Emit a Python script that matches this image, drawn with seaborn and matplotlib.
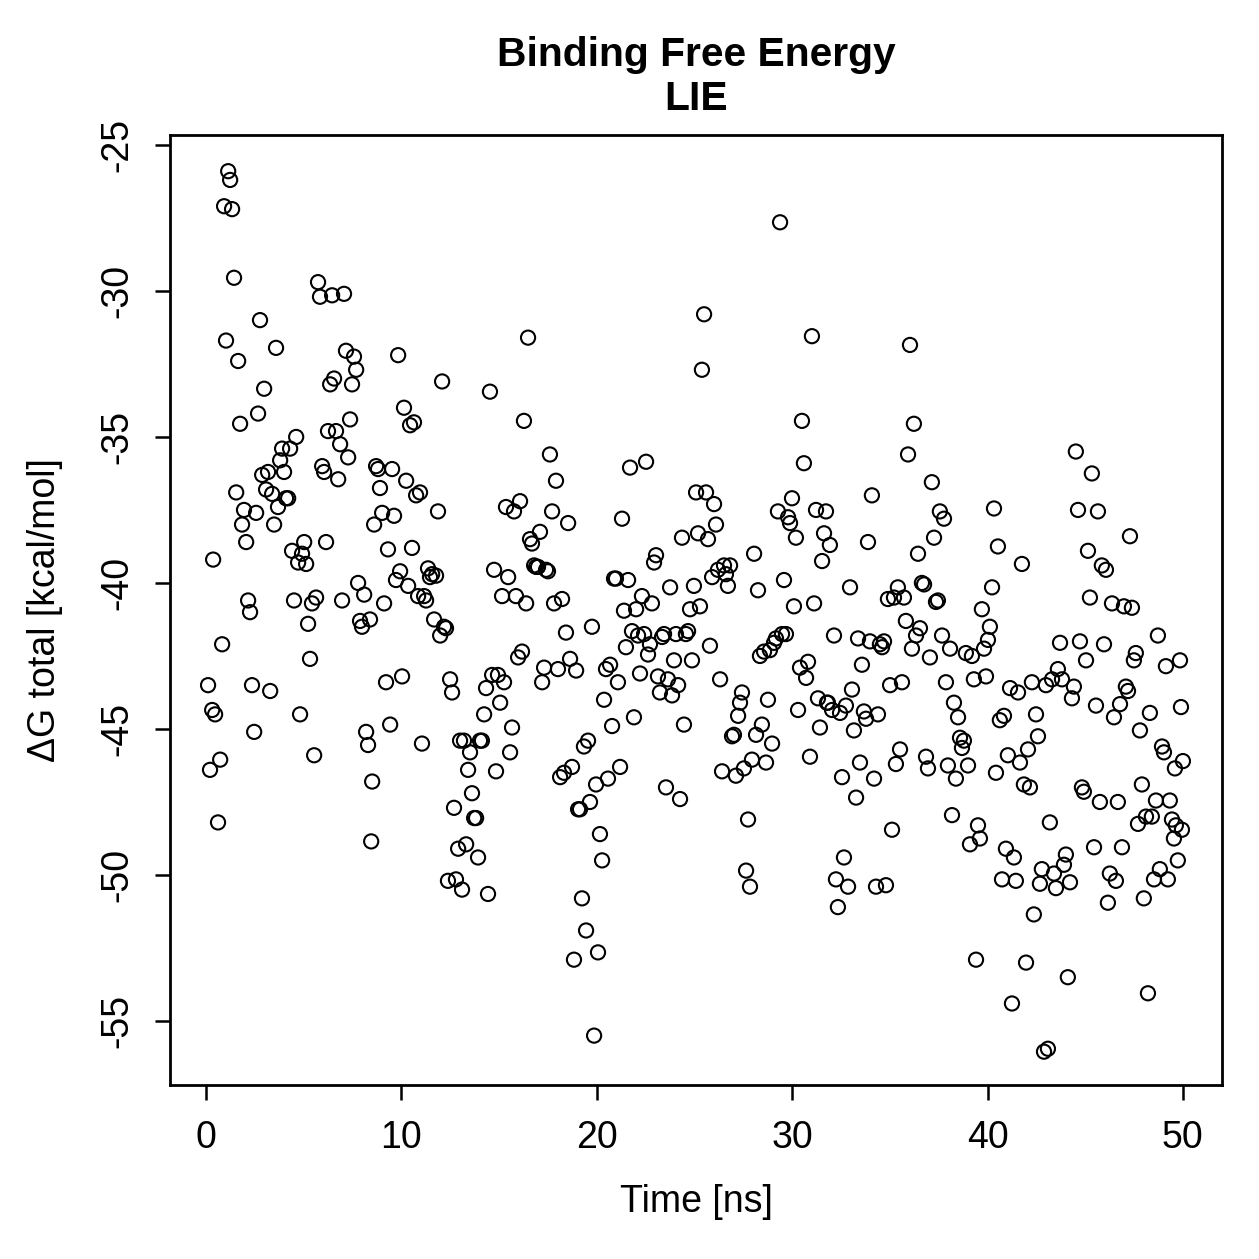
import matplotlib
matplotlib.use("Agg")
import matplotlib.pyplot as plt
import seaborn as sns
import pandas as pd

# Values (time in ns, dG in kcal/mol)
time_ns = [
    0.10, 0.20, 0.31, 0.46, 0.36, 0.61, 0.72, 0.82, 0.92, 1.02,
    1.13, 1.23, 1.33, 1.43, 1.54, 1.64, 1.74, 1.84, 1.94, 2.05,
    2.15, 2.25, 2.35, 2.46, 2.56, 2.66, 2.76, 2.87, 2.97, 3.07,
    3.17, 3.28, 3.38, 3.48, 3.58, 3.68, 3.79, 3.89, 3.99, 4.09,
    4.20, 4.30, 4.40, 4.50, 4.61, 4.71, 4.81, 4.91, 5.02, 5.12,
    5.22, 5.32, 5.42, 5.53, 5.63, 5.73, 5.83, 5.94, 6.04, 6.14,
    6.24, 6.35, 6.45, 6.55, 6.65, 6.76, 6.86, 6.96, 7.06, 7.16,
    7.27, 7.37, 7.47, 7.57, 7.68, 7.78, 7.88, 7.98, 8.09, 8.19,
    8.29, 8.39, 8.50, 8.45, 8.60, 8.70, 8.80, 8.90, 9.01, 9.11,
    9.21, 9.31, 9.42, 9.52, 9.62, 9.72, 9.83, 9.93, 10.03, 10.13,
    10.24, 10.34, 10.44, 10.54, 10.64, 10.75, 10.85, 10.95, 11.05, 11.16,
    11.26, 11.36, 11.46, 11.57, 11.67, 11.77, 11.87, 11.98, 12.08, 12.18,
    12.28, 12.38, 12.49, 12.59, 12.69, 12.79, 12.90, 13.00, 13.10, 13.20,
    13.31, 13.41, 13.51, 13.61, 13.72, 13.82, 13.92, 14.02, 14.12, 14.23,
    14.33, 14.43, 14.53, 14.64, 14.74, 14.84, 14.94, 15.05, 15.15, 15.25,
    15.35, 15.46, 15.56, 15.66, 15.76, 15.86, 15.97, 16.07, 16.17, 16.27,
    16.38, 16.48, 16.58, 16.68, 16.79, 16.89, 16.99, 17.09, 17.20, 17.30,
    17.40, 17.50, 17.60, 17.71, 17.81, 17.91, 18.01, 18.12, 18.22, 18.32,
    18.42, 18.53, 18.63, 18.73, 18.83, 18.94, 19.04, 19.14, 19.24, 19.34,
    19.45, 19.55, 19.65, 19.75, 19.86, 19.96, 20.06, 20.16, 20.27, 20.37,
    20.47, 20.57, 20.68, 20.78, 20.88, 20.98, 21.08, 21.19, 21.29, 21.39,
    21.49, 21.60, 21.70, 21.80, 21.90, 22.01, 22.11, 22.21, 22.31, 22.42,
    22.52, 22.62, 22.72, 22.82, 22.93, 23.03, 23.13, 23.23, 23.34, 23.44,
    23.54, 23.64, 23.75, 23.85, 23.95, 24.05, 24.16, 24.26, 24.36, 24.46,
    24.56, 24.67, 24.77, 24.87, 24.97, 25.08, 25.18, 25.28, 25.38, 25.49,
    25.59, 25.69, 25.79, 25.90, 26.00, 26.10, 26.20, 26.31, 26.41, 26.51,
    26.61, 26.71, 26.82, 26.92, 27.02, 27.12, 27.23, 27.33, 27.43, 27.53,
    27.64, 27.74, 27.84, 27.94, 28.05, 28.15, 28.25, 28.35, 28.45, 28.56,
    28.66, 28.76, 28.86, 28.97, 29.07, 29.17, 29.27, 29.38, 29.48, 29.58,
    29.68, 29.79, 29.89, 29.99, 30.09, 30.19, 30.30, 30.40, 30.50, 30.60,
    30.71, 30.81, 30.91, 31.01, 31.12, 31.22, 31.32, 31.42, 31.53, 31.63,
    31.73, 31.78, 31.83, 31.93, 32.04, 32.14, 32.24, 32.34, 32.45, 32.55,
    32.65, 32.75, 32.86, 32.96, 33.06, 33.16, 33.27, 33.37, 33.47, 33.57,
    33.67, 33.78, 33.88, 33.98, 34.08, 34.19, 34.29, 34.39, 34.49, 34.60,
    34.70, 34.80, 34.90, 35.01, 35.11, 35.21, 35.31, 35.41, 35.52, 35.62,
    35.72, 35.82, 35.93, 36.03, 36.13, 36.23, 36.34, 36.44, 36.54, 36.64,
    36.75, 36.85, 36.95, 37.05, 37.15, 37.26, 37.36, 37.46, 37.56, 37.67,
    37.77, 37.87, 37.97, 38.08, 38.18, 38.28, 38.38, 38.49, 38.59, 38.69,
    38.79, 38.89, 39.00, 39.10, 39.20, 39.30, 39.41, 39.51, 39.61, 39.71,
    39.82, 39.92, 40.02, 40.12, 40.23, 40.33, 40.43, 40.53, 40.63, 40.74,
    40.84, 40.94, 41.04, 41.15, 41.25, 41.35, 41.45, 41.56, 41.66, 41.76,
    41.86, 41.97, 42.07, 42.17, 42.27, 42.37, 42.48, 42.58, 42.68, 42.78,
    42.89, 42.99, 43.09, 43.19, 43.30, 43.40, 43.50, 43.60, 43.71, 43.81,
    43.91, 44.01, 44.11, 44.22, 44.32, 44.42, 44.52, 44.63, 44.73, 44.83,
    44.93, 45.04, 45.14, 45.24, 45.34, 45.45, 45.55, 45.65, 45.75, 45.85,
    45.96, 46.06, 46.16, 46.26, 46.37, 46.47, 46.57, 46.67, 46.78, 46.88,
    46.98, 47.08, 47.19, 47.29, 47.39, 47.49, 47.59, 47.70, 47.80, 47.90,
    48.00, 48.11, 48.21, 48.31, 48.41, 48.52, 48.62, 48.72, 48.82, 48.93,
    49.03, 49.13, 49.23, 49.33, 49.44, 49.54, 49.64, 49.59, 49.74, 49.85,
    49.95, 49.90, 50.00,
]

dg_total = [
    -43.5, -46.4, -44.35, -44.5, -39.2, -48.2, -46.05, -42.1, -27.1, -31.7,
    -25.9, -26.2, -27.2, -29.55, -36.9, -32.4, -34.55, -38.0, -37.5, -38.6,
    -40.6, -41.0, -43.5, -45.1, -37.6, -34.2, -31.0, -36.3, -33.35, -36.8,
    -36.2, -43.7, -36.95, -38.0, -31.95, -37.4, -35.8, -35.4, -36.2, -37.1,
    -37.1, -35.4, -38.9, -40.6, -35.0, -39.3, -44.5, -39.0, -38.6, -39.35,
    -41.4, -42.6, -40.7, -45.9, -40.5, -29.7, -30.2, -36.0, -36.2, -38.6,
    -34.8, -33.2, -30.15, -33.0, -34.8, -36.45, -35.25, -40.6, -30.1, -32.05,
    -35.7, -34.4, -33.2, -32.25, -32.7, -40.0, -41.3, -41.5, -40.4, -45.1,
    -45.55, -41.25, -46.8, -48.85, -38.0, -36.0, -36.1, -36.75, -37.6, -40.7,
    -43.4, -38.85, -44.85, -36.1, -37.7, -39.9, -32.2, -39.6, -43.2, -34.0,
    -36.5, -40.1, -34.6, -38.8, -34.5, -37.0, -40.45, -36.9, -45.5, -40.45,
    -40.6, -39.5, -39.8, -39.7, -41.25, -39.75, -37.55, -41.8, -33.1, -41.5,
    -41.55, -50.2, -43.3, -43.75, -47.7, -50.15, -49.1, -45.4, -50.5, -45.4,
    -48.95, -46.4, -45.8, -47.2, -48.05, -48.05, -49.4, -45.4, -45.4, -44.5,
    -43.6, -50.65, -33.45, -43.15, -39.55, -46.45, -43.15, -44.1, -40.45, -43.4,
    -37.4, -39.8, -45.8, -44.95, -37.55, -40.45, -42.55, -37.2, -42.35, -34.45,
    -40.7, -31.6, -38.5, -38.65, -39.4, -39.45, -39.45, -38.25, -43.4, -42.9,
    -39.55, -39.6, -35.6, -37.55, -40.7, -36.5, -42.95, -46.65, -40.55, -46.5,
    -41.7, -37.95, -42.6, -46.3, -52.9, -43.0, -47.75, -47.75, -50.8, -45.6,
    -51.9, -45.4, -47.5, -41.5, -55.5, -46.9, -52.65, -48.6, -49.5, -44.0,
    -42.95, -46.7, -42.8, -44.9, -39.85, -39.85, -43.4, -46.3, -37.8, -40.95,
    -42.2, -39.9, -36.05, -41.65, -44.6, -40.9, -41.8, -43.1, -40.45, -41.75,
    -35.85, -42.45, -42.1, -40.7, -39.3, -39.05, -43.2, -43.75, -41.85, -41.75,
    -47.0, -43.3, -40.15, -43.85, -42.65, -41.75, -43.5, -47.4, -38.45, -44.85,
    -41.75, -41.65, -40.9, -42.65, -40.1, -36.9, -38.3, -40.8, -32.7, -30.8,
    -36.9, -38.5, -42.15, -39.8, -37.3, -38.0, -39.55, -43.3, -46.45, -39.4,
    -39.7, -40.1, -39.4, -45.25, -45.2, -46.6, -44.55, -44.1, -43.75, -46.35,
    -49.85, -48.1, -50.4, -46.05, -39.0, -45.2, -40.25, -42.5, -44.85, -42.35,
    -46.15, -44.0, -42.3, -45.5, -42.05, -41.9, -37.55, -27.65, -41.75, -39.9,
    -41.75, -37.75, -37.95, -37.1, -40.8, -38.45, -44.35, -42.9, -34.45, -35.9,
    -43.25, -42.7, -45.95, -31.55, -40.7, -37.5, -43.95, -44.95, -39.25, -38.3,
    -37.55, -44.1, -44.1, -38.7, -44.35, -41.8, -50.15, -51.1, -44.45, -46.65,
    -49.4, -44.2, -50.4, -40.15, -43.65, -45.05, -47.35, -41.9, -46.15, -42.8,
    -44.4, -44.65, -38.6, -42.0, -37.0, -46.7, -50.4, -44.5, -42.1, -42.2,
    -42.0, -50.35, -40.55, -43.5, -48.45, -40.5, -46.2, -40.15, -45.7, -43.4,
    -40.5, -41.3, -35.6, -31.85, -42.25, -34.55, -41.8, -39.0, -41.55, -40.0,
    -40.05, -45.95, -46.35, -42.55, -36.55, -38.45, -40.65, -40.6, -37.55, -41.8,
    -37.8, -43.4, -46.25, -42.25, -47.95, -44.1, -46.7, -44.6, -45.3, -45.65,
    -45.4, -42.4, -46.25, -48.95, -42.5, -43.3, -52.9, -48.3, -48.75, -40.9,
    -42.25, -43.2, -41.95, -41.5, -40.15, -37.45, -46.5, -38.75, -44.7, -50.15,
    -44.55, -49.1, -45.9, -43.6, -54.4, -49.4, -50.2, -43.75, -46.15, -39.35,
    -46.9, -53.0, -45.7, -47.0, -43.4, -51.35, -44.5, -45.25, -50.3, -49.8,
    -56.05, -43.5, -55.95, -48.2, -43.3, -49.95, -50.45, -42.95, -42.05, -43.3,
    -49.65, -49.3, -53.5, -50.25, -43.95, -43.55, -35.5, -37.5, -42.0, -47.0,
    -47.15, -42.65, -38.9, -40.5, -36.25, -49.05, -44.2, -37.55, -47.5, -39.4,
    -42.1, -39.55, -50.95, -49.95, -40.7, -44.6, -50.2, -47.5, -44.15, -49.05,
    -40.8, -43.55, -43.7, -38.4, -40.85, -42.65, -42.4, -48.25, -45.05, -46.9,
    -50.8, -48.0, -54.05, -44.45, -48.0, -50.15, -47.45, -41.8, -49.8, -45.6,
    -45.8, -42.85, -50.15, -47.45, -48.1, -48.75, -48.3, -46.35, -49.5, -42.65,
    -48.45, -44.25, -46.1,
]

x_ticks = [0, 10, 20, 30, 40, 50]
y_ticks = [-55, -50, -45, -40, -35, -30, -25]

df = pd.DataFrame({"time": time_ns, "dG": dg_total})

sns.set_style("ticks")
plt.rcParams["font.family"] = ["Liberation Sans", "DejaVu Sans"]
plt.rcParams["axes.unicode_minus"] = False
plt.rcParams["text.color"] = "black"
plt.rcParams["axes.labelcolor"] = "black"

fig = plt.figure(figsize=(6.295, 6.295), dpi=200)
ax = fig.add_axes([0.135, 0.138, 0.8356, 0.7548])

sns.scatterplot(data=df, x="time", y="dG", ax=ax, marker="o",
                facecolors="none", edgecolor="black", s=26, linewidth=0.75)

ax.set_xlim(-1.85, 52.0)
ax.set_ylim(-57.2, -24.66)
ax.set_xticks(x_ticks)
ax.set_yticks(y_ticks)

for sp in ax.spines.values():
    sp.set_visible(True)
    sp.set_linewidth(1.0)
    sp.set_color("black")

ax.tick_params(axis="both", direction="out", length=5.5, width=0.9,
               labelsize=13.5, pad=7, colors="black")
ax.tick_params(axis="y", labelrotation=90)
for lab in ax.get_yticklabels():
    lab.set_va("center")

ax.set_xlabel("Time [ns]", fontsize=13.5, labelpad=10, color="black")
ax.set_ylabel("\u0394G total [kcal/mol]", fontsize=13.5, labelpad=13,
              color="black")
ax.set_title("Binding Free Energy\nLIE", fontsize=14.7, fontweight="bold",
             pad=9, linespacing=1.2, color="black")

fig.savefig("out.png", dpi=200)
